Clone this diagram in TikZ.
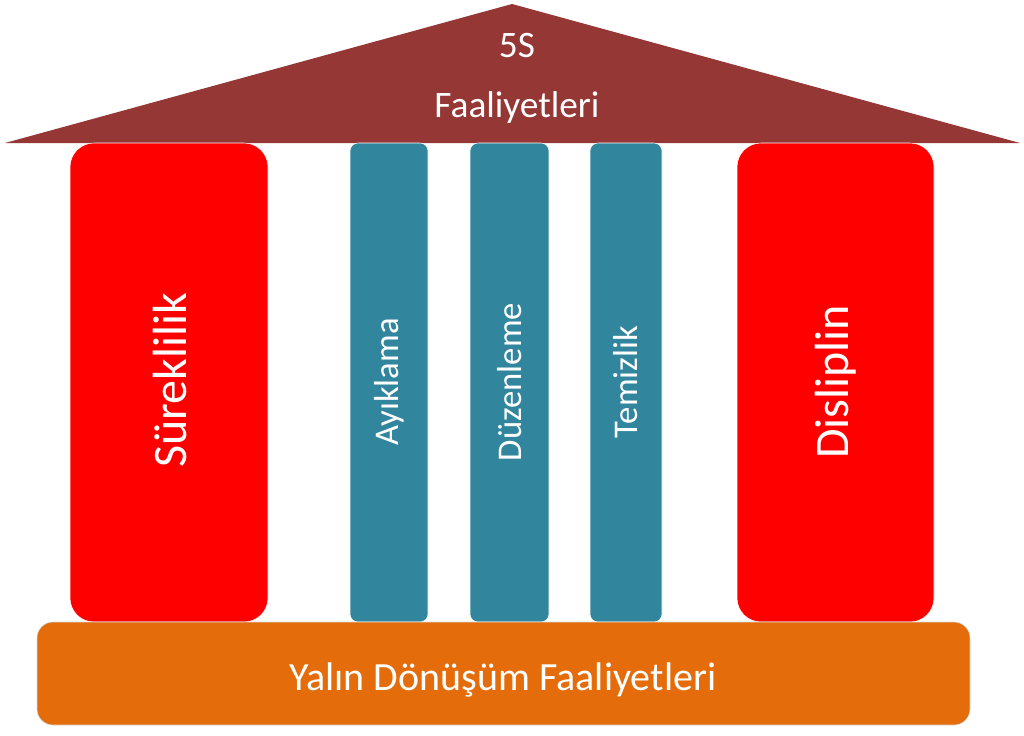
\documentclass[tikz,border=0pt]{standalone}
\usepackage{fontspec}
\setmainfont{Carlito}
\begin{document}
\begin{tikzpicture}[
        x=0.75pt, y=-0.75pt, % pixel coordinates of the reference
        line join=round
        ]
        
        % 1. Colours of the picture
        \colorlet{myroof}{red!45!black!90!white}
        \definecolor{myroof}{HTML}{953735}
        \definecolor{mypillar}{HTML}{31859C}
        \definecolor{myred}{HTML}{FF0000}
        \definecolor{mybase}{HTML}{E46C0A}
        
        \tikzset{
            bigpillar/.style={fill=myred, draw=white, rounded corners=18pt, inner sep=0pt},
            smallpillar/.style={fill=mypillar, draw=white, rounded corners=6pt, inner sep=0pt},
            bigtext/.style={white, font=\fontsize{36}{40}\selectfont, rotate=90},
            smalltext/.style={white, font=\fontsize{26}{30}\selectfont, rotate=90}
        }
        
        % 2. Page frame
        \useasboundingbox (0,0) rectangle (1024,735);
        
        % 3. Roof
        \fill[myroof] (5,143) -- (512,4) -- (1020,143) -- cycle;
        \node[white, font=\fontsize{28}{32}\selectfont] (roofa) at (517,46) {5S};
        \node[white, font=\fontsize{28}{32}\selectfont] (roofb) at (517,108) {Faaliyetleri};
        
        % 4. Pillars
        \draw[bigpillar] (70,143) rectangle (268,622);
        \node[bigtext] (surek) at (170,380) {Süreklilik};
        \draw[bigpillar] (737,143) rectangle (934,622);
        \node[bigtext] (disip) at (836,382) {Disliplin};
        
        \foreach \xa/\xb/\txt/\nm in {350/428/Ayıklama/ayik, 470/549/Düzenleme/duzen, 590/662/Temizlik/temiz} {
            \draw[smallpillar] (\xa,143) rectangle (\xb,622);
            \node[smalltext] (\nm) at ({(\xa+\xb)/2},382) {\txt};
        }
        
        % 5. Base
        \draw[fill=mybase, draw=gray!30, rounded corners=12pt] (37,622) rectangle (970,725);
        \node[white, font=\fontsize{30}{34}\selectfont] (yalin) at (503,680) {Yalın Dönüşüm Faaliyetleri};
    \end{tikzpicture}
\end{document}
